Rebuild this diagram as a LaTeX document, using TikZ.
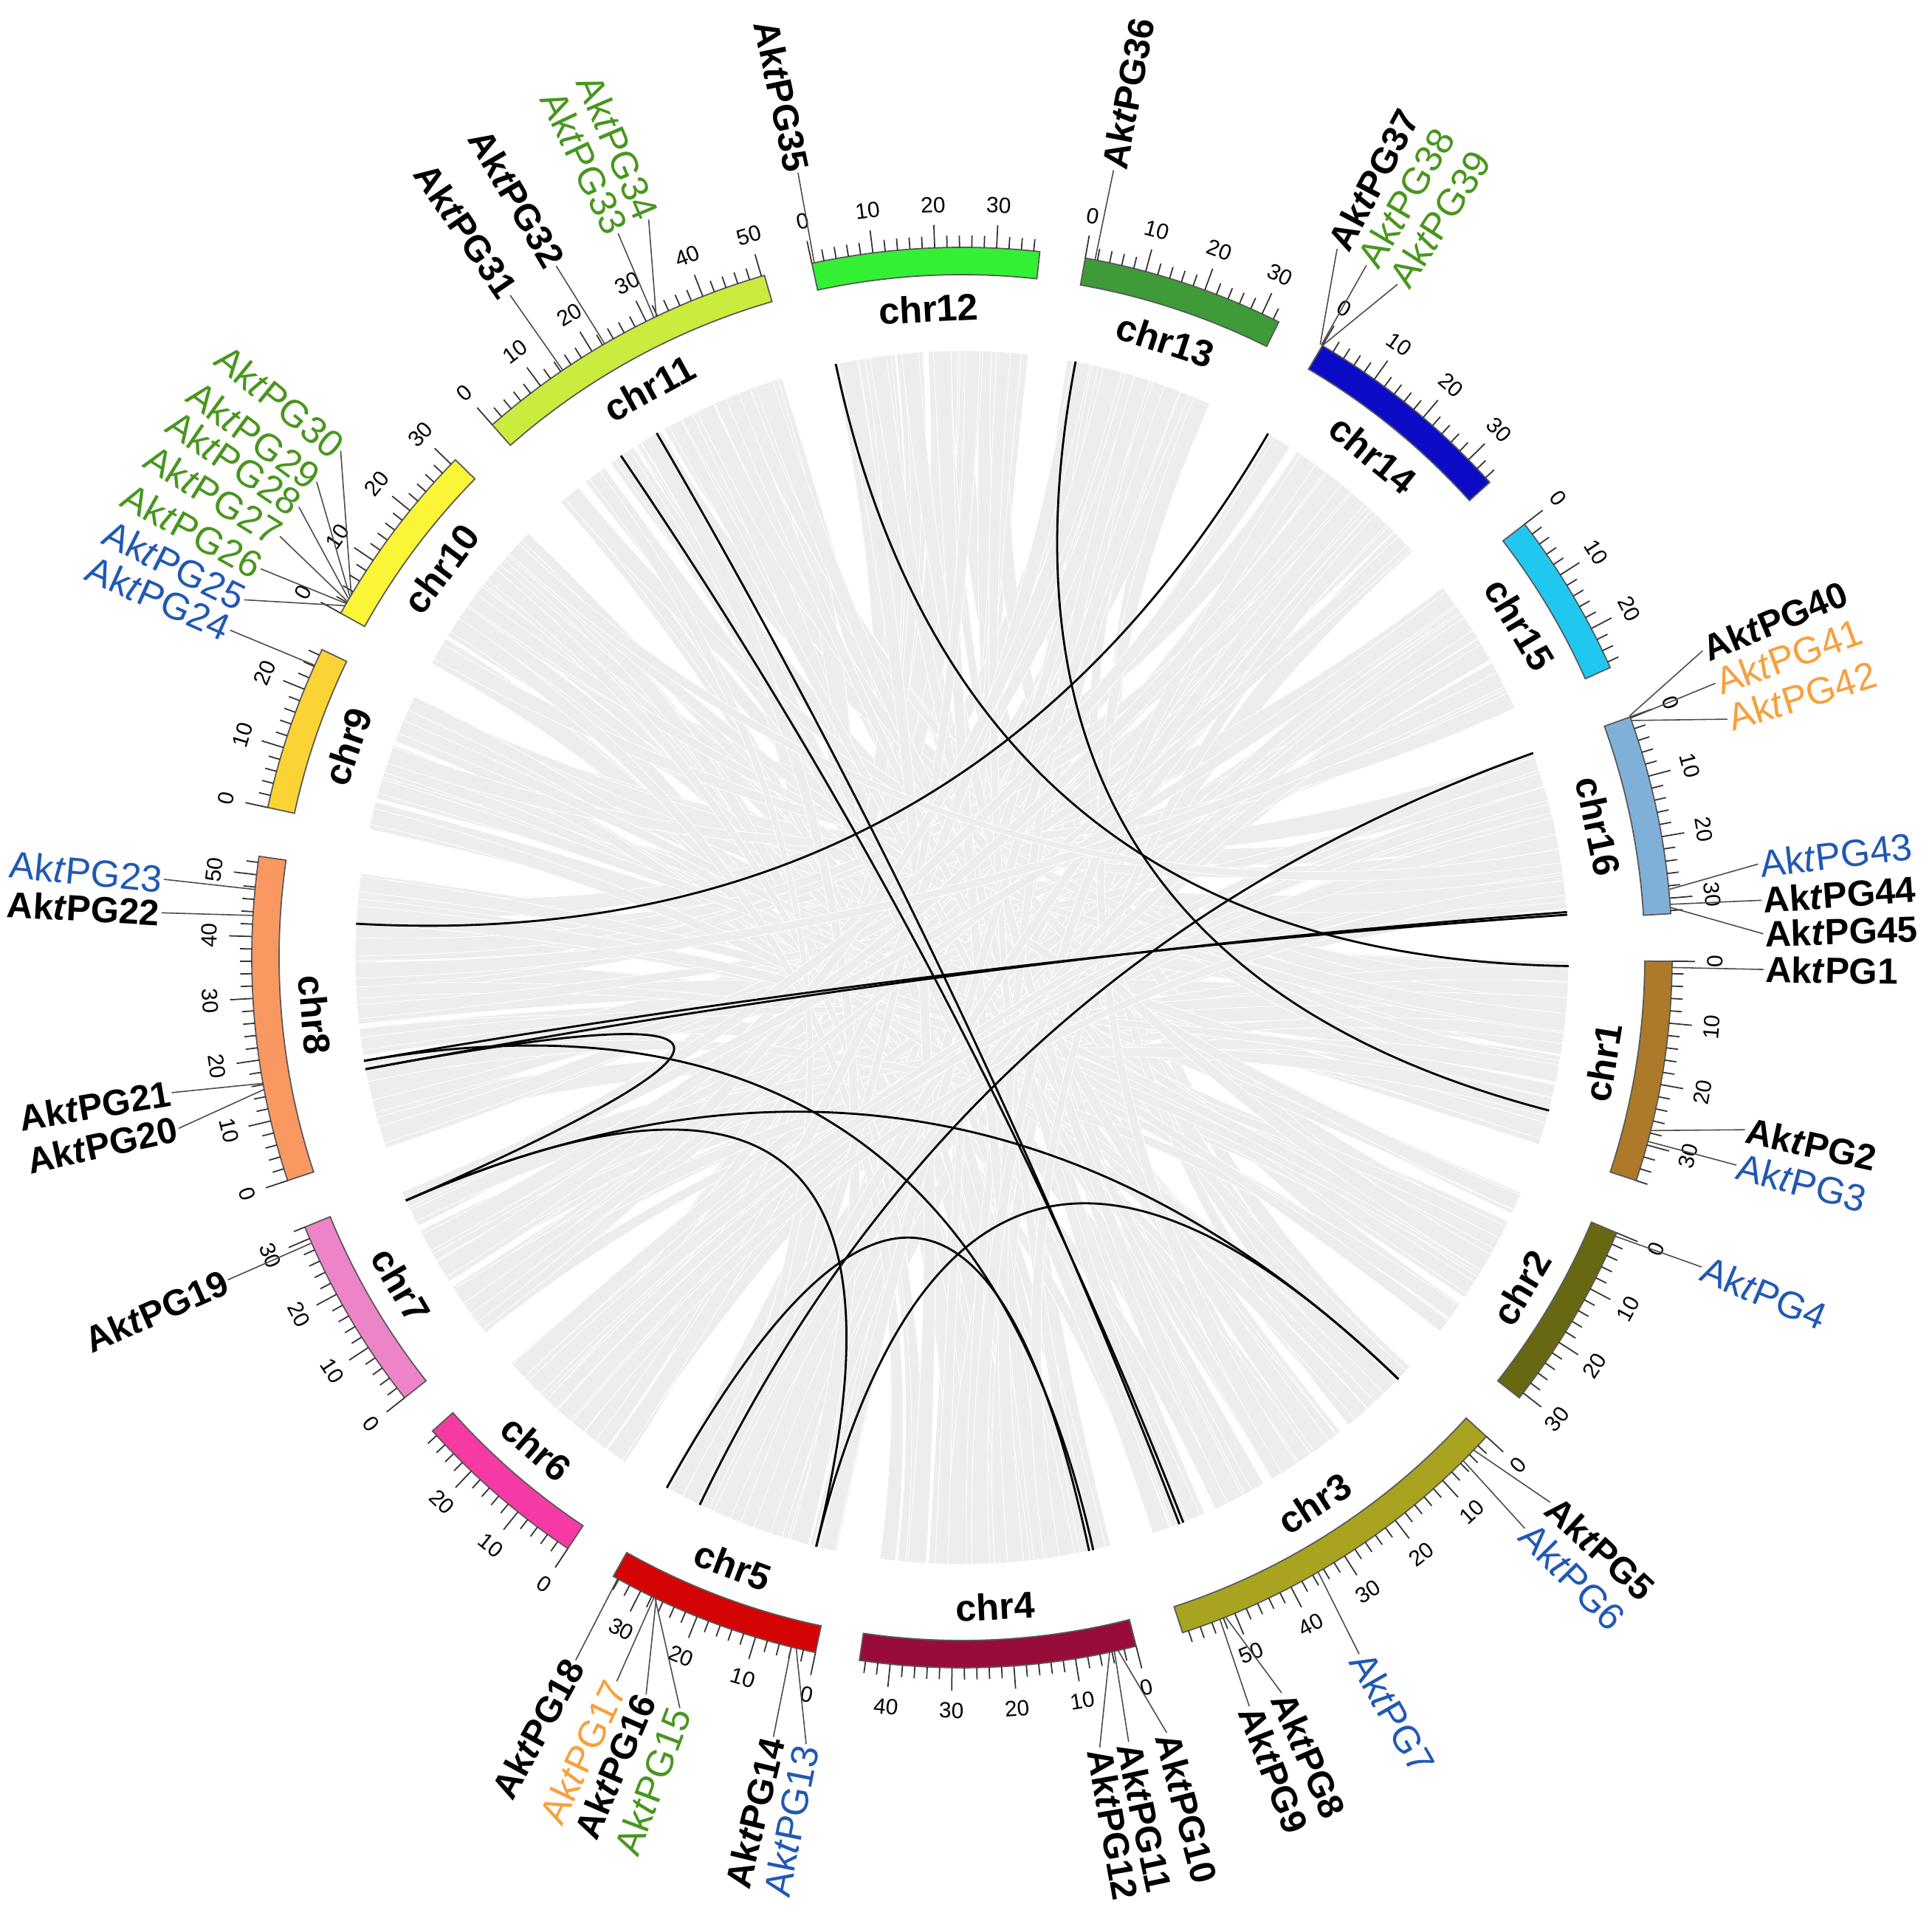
\documentclass[tikz,border=0pt]{standalone}
\usepackage{fontspec}
\setmainfont{Liberation Sans}
\usetikzlibrary{calc}
\definecolor{c1}{RGB}{172,122,42}
\definecolor{c2}{RGB}{104,104,18}
\definecolor{c3}{RGB}{168,164,32}
\definecolor{c4}{RGB}{152,12,58}
\definecolor{c5}{RGB}{212,4,4}
\definecolor{c6}{RGB}{245,58,165}
\definecolor{c7}{RGB}{238,132,200}
\definecolor{c8}{RGB}{250,152,98}
\definecolor{c9}{RGB}{250,212,52}
\definecolor{c10}{RGB}{250,245,55}
\definecolor{c11}{RGB}{202,236,62}
\definecolor{c12}{RGB}{52,240,52}
\definecolor{c13}{RGB}{62,155,56}
\definecolor{c14}{RGB}{12,12,198}
\definecolor{c15}{RGB}{32,200,240}
\definecolor{c16}{RGB}{128,176,216}
\definecolor{ribgray}{RGB}{237,237,237}
\definecolor{ggreen}{RGB}{72,150,30}
\definecolor{gblue}{RGB}{32,88,180}
\definecolor{gorange}{RGB}{248,160,60}
\def\CA{{-0.3,-22.8,-42.4,-75.8,-101.9,-123.7,-141.7,-161.7,-192.2,-209.0,131.4,102.2,80.0,59.5,37.6,19.8}}
\def\CL{{36,31,59,45,35,29,32,53,27,31,50.5,37,33,35,27,32.5}}
\tikzset{
  leader/.style={draw=black!70, line width=0.45pt},
  tickline/.style={draw=black!80, line width=0.5pt},
  ticklab/.style={font=\fontsize{8.5}{8.5}\selectfont, inner sep=0pt},
  chrlab/.style={font=\bfseries\fontsize{14.4}{14}\selectfont, inner sep=0pt},
  gk/.style={font=\bfseries\fontsize{14}{14}\selectfont, text=black, inner sep=0.5pt},
  gg/.style={font=\fontsize{14.6}{14}\selectfont, text=ggreen, inner sep=0.5pt},
  gb/.style={font=\fontsize{14.6}{14}\selectfont, text=gblue, inner sep=0.5pt},
  go/.style={font=\fontsize{14.6}{14}\selectfont, text=gorange, inner sep=0.5pt},
  blk/.style={draw=black, line width=0.8pt},
  ribbon/.style={fill=ribgray, draw=white, line width=0.25pt},
}
\newcommand{\genelab}[4]{%
  \pgfmathtruncatemacro{\rside}{cos(#4)>0}%
  \coordinate (gb#1) at (#3:9.62);
  \ifnum\rside=1
    \node[#2, rotate=#4, anchor=west] (g#1) at (#4:10.86) {Ak\textit{t}PG#1};
    \draw[leader] (gb#1) -- (g#1.west);
  \else
    \node[#2, rotate=#4+180, anchor=east] (g#1) at (#4:10.86) {Ak\textit{t}PG#1};
    \draw[leader] (gb#1) -- (g#1.east);
  \fi
}
\newcommand{\blink}[2]{\draw[blk] (#1) .. controls ($(#1)!0.6667!(O)$) and ($(#2)!0.6667!(O)$) .. (#2);}
\newcommand{\ribbonlayer}[4]{% #1 seed, #2 offset, #3 min width, #4 width spread
  \pgfmathsetseed{#1}
  \foreach \c in {0,...,15}{
    \pgfmathsetmacro{\ca}{\CA[\c]}
    \pgfmathsetmacro{\cl}{\CL[\c]}
    \foreach \s in {0,6,...,54}{
      \pgfmathsetmacro{\ss}{\s+#2}
      \pgfmathtruncatemacro{\ok}{\ss+3 < \cl}
      \ifnum\ok=1
        \pgfmathsetmacro{\w}{min(#3+#4*rnd, \cl-\ss)}
        \pgfmathtruncatemacro{\tc}{mod(\c+6+int(5*rnd),16)}
        \pgfmathsetmacro{\tca}{\CA[\tc]}
        \pgfmathsetmacro{\tcl}{\CL[\tc]}
        \pgfmathsetmacro{\tp}{rnd*(\tcl-\w)}
        \pgfmathsetmacro{\aA}{\ca-0.5*\ss}
        \pgfmathsetmacro{\aB}{\aA-0.5*\w}
        \pgfmathsetmacro{\bA}{\tca-0.5*\tp}
        \pgfmathsetmacro{\bB}{\bA-0.5*\w}
        \fill[ribbon] (\aA:8.22) arc[start angle=\aA, end angle=\aB, radius=8.22cm]
          .. controls (\aB:2.74) and (\bA:2.74) .. (\bA:8.22)
          arc[start angle=\bA, end angle=\bB, radius=8.22cm]
          .. controls (\bB:2.74) and (\aA:2.74) .. (\aA:8.22) -- cycle;
      \fi
    }
  }
}
\begin{document}
\begin{tikzpicture}
\useasboundingbox (-13.03,-12.90) rectangle (13.14,12.97);
\fill[white] (-13.03,-12.90) rectangle (13.14,12.97);
\coordinate (O) at (0,0);
% grey synteny ribbons (two layers)
\ribbonlayer{4242}{0}{3.8}{1.8}
\ribbonlayer{917}{1}{2.4}{1.2}
% chromosome bars, labels, ticks
\foreach \c/\col in {0/c1,1/c2,2/c3,3/c4,4/c5,5/c6,6/c7,7/c8,8/c9,9/c10,10/c11,11/c12,12/c13,13/c14,14/c15,15/c16}{
  \pgfmathsetmacro{\ca}{\CA[\c]}
  \pgfmathsetmacro{\cl}{\CL[\c]}
  \pgfmathsetmacro{\ce}{\ca-0.5*\cl}
  \filldraw[fill=\col, draw=black!65, line width=0.5pt] (\ca:9.25) arc[start angle=\ca, end angle=\ce, radius=9.25cm] -- (\ce:9.62) arc[start angle=\ce, end angle=\ca, radius=9.62cm] -- cycle;
  \pgfmathsetmacro{\cm}{\ca-0.25*\cl}
  \pgfmathsetmacro{\rot}{sin(\cm)>0 ? \cm-90 : \cm+90}
  \pgfmathtruncatemacro{\cn}{\c+1}
  \node[chrlab, rotate=\rot] (chr\cn) at (\cm:8.8) {chr\cn};
  \foreach \m in {0,2,...,58}{
    \pgfmathtruncatemacro{\ok}{\m <= \cl}
    \ifnum\ok=1
      \pgfmathsetmacro{\tang}{\ca-0.5*\m}
      \pgfmathtruncatemacro{\maj}{mod(\m,10)==0}
      \ifnum\maj=1
        \draw[tickline] (\tang:9.62) -- (\tang:9.93);
        \pgfmathsetmacro{\trot}{sin(\tang)>0 ? \tang-90 : \tang+90}
        \node[ticklab, rotate=\trot] (tk\cn-\m) at (\tang:10.2) {\m};
      \else
        \draw[tickline] (\tang:9.62) -- (\tang:9.78);
      \fi
    \fi
  }
}
% black duplication links
\coordinate (e31) at (124.2:8.22);
\coordinate (e32) at (120.2:8.22);
\coordinate (e35) at (102.0:8.22);
\coordinate (e36) at (79.2:8.22);
\coordinate (e37) at (59.7:8.22);
\coordinate (e40) at (19.7:8.22);
\coordinate (e44) at (4.3:8.22);
\coordinate (e45) at (4.05:8.22);
\coordinate (e1) at (-0.8:8.22);
\coordinate (e2) at (-14.6:8.22);
\coordinate (e5) at (-44.0:8.22);
\coordinate (e8) at (-68.6:8.22);
\coordinate (e9) at (-69.0:8.22);
\coordinate (e10) at (-77.5:8.22);
\coordinate (e11) at (-77.9:8.22);
\coordinate (e14) at (-103.9:8.22);
\coordinate (e16) at (-115.6:8.22);
\coordinate (e18) at (-119.1:8.22);
\coordinate (e19) at (-156.4:8.22);
\coordinate (e20) at (-169.4:8.22);
\coordinate (e21) at (-170.2:8.22);
\coordinate (e22) at (-183.2:8.22);
\blink{e31}{e8}
\blink{e32}{e9}
\blink{e35}{e1}
\blink{e36}{e2}
\blink{e37}{e22}
\blink{e40}{e16}
\blink{e20}{e44}
\blink{e21}{e45}
\blink{e20}{e19}
\blink{e21}{e10}
\blink{e18}{e11}
\blink{e19}{e14}
\blink{e19}{e5}
\blink{e14}{e5}
% gene labels
\genelab{1}{gk}{-0.8}{-0.85}
\genelab{2}{gk}{-14.1}{-12.4}
\genelab{3}{gb}{-15.0}{-15.0}
\genelab{4}{gb}{-23.1}{-22.7}
\genelab{5}{gk}{-43.9}{-42.8}
\genelab{6}{gb}{-45.1}{-45.4}
\genelab{7}{gb}{-59.9}{-60.3}
\genelab{8}{gk}{-68.2}{-66.5}
\genelab{9}{gk}{-68.7}{-69.0}
\genelab{10}{gk}{-77.3}{-75.2}
\genelab{11}{gk}{-77.6}{-78.0}
\genelab{12}{gk}{-78.0}{-80.1}
\genelab{13}{gb}{-103.5}{-101.2}
\genelab{14}{gk}{-103.9}{-103.6}
\genelab{15}{gg}{-115.6}{-110.6}
\genelab{16}{gk}{-115.5}{-113.2}
\genelab{17}{go}{-115.7}{-115.5}
\genelab{18}{gk}{-119.0}{-118.8}
\genelab{19}{gk}{-156.3}{-156.3}
\genelab{20}{gk}{-169.3}{-167.7}
\genelab{21}{gk}{-169.8}{-170.3}
\genelab{22}{gk}{-183.4}{-183.2}
\genelab{23}{gb}{-185.5}{-185.6}
\genelab{24}{gb}{155.7}{155.9}
\genelab{25}{gb}{150.3}{153.5}
\genelab{26}{gg}{150.1}{151.0}
\genelab{27}{gg}{149.9}{148.3}
\genelab{28}{gg}{149.7}{145.8}
\genelab{29}{gg}{149.5}{143.6}
\genelab{30}{gg}{149.3}{140.8}
\genelab{31}{gk}{124.2}{124.3}
\genelab{32}{gk}{120.2}{120.4}
\genelab{33}{gg}{115.7}{115.4}
\genelab{34}{gg}{115.5}{113.0}
\genelab{35}{gk}{102.0}{101.8}
\genelab{36}{gk}{79.2}{79.1}
\genelab{37}{gk}{59.7}{62.1}
\genelab{38}{gg}{59.6}{59.7}
\genelab{39}{gg}{59.5}{57.1}
\genelab{40}{gk}{19.9}{22.5}
\genelab{41}{go}{19.7}{20.0}
\genelab{42}{go}{19.5}{17.3}
\genelab{43}{gb}{5.5}{6.7}
\genelab{44}{gk}{4.3}{4.1}
\genelab{45}{gk}{4.05}{1.7}
\end{tikzpicture}
\end{document}
